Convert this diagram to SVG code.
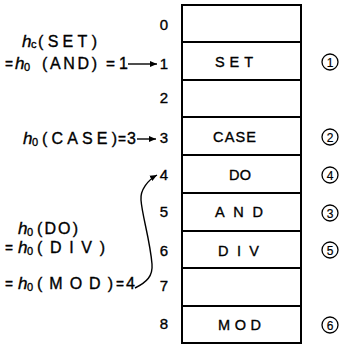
<svg xmlns="http://www.w3.org/2000/svg" width="342" height="347" viewBox="0 0 342 347">
<style>
text{font-family:"Liberation Sans",Arial,sans-serif;fill:#000;stroke:#000;stroke-width:0.35}
.num{font-size:15px;text-anchor:middle}
.cell{font-size:14.5px;text-anchor:middle}
.lbl{font-size:16px}
.h{font-size:17px;font-style:italic}
.sub{font-size:11px}
.cn{font-size:12px;text-anchor:middle;stroke-width:0.2}
.row{stroke:#000;stroke-width:1.8;fill:none}
.circ{stroke:#000;stroke-width:1.3;fill:none}
.conn{stroke:#000;stroke-width:1.4;fill:none}
</style>
<defs>
<marker id="ah" markerUnits="userSpaceOnUse" markerWidth="8" markerHeight="8" refX="7" refY="4" orient="auto">
<path d="M0,1 L7,4 L0,7 Z" fill="#000"/>
</marker>
</defs>

<g id="table">
<rect x="182" y="5" width="119" height="338" fill="none" stroke="#000" stroke-width="2"/>
<line class="row" x1="182" y1="42" x2="301" y2="42"/>
<line class="row" x1="182" y1="80" x2="301" y2="80"/>
<line class="row" x1="182" y1="117" x2="301" y2="117"/>
<line class="row" x1="182" y1="155" x2="301" y2="155"/>
<line class="row" x1="182" y1="193" x2="301" y2="193"/>
<line class="row" x1="182" y1="231" x2="301" y2="231"/>
<line class="row" x1="182" y1="268" x2="301" y2="268"/>
<line class="row" x1="182" y1="306" x2="301" y2="306"/>
</g>

<g id="row-numbers">
<text class="num" x="164" y="30">0</text>
<text class="num" x="164" y="69">1</text>
<text class="num" x="164" y="103">2</text>
<text class="num" x="164" y="143">3</text>
<text class="num" x="164" y="180">4</text>
<text class="num" x="164" y="217">5</text>
<text class="num" x="164" y="256">6</text>
<text class="num" x="164" y="291">7</text>
<text class="num" x="164" y="329">8</text>
</g>

<g id="cell-set"><text class="cell" x="234" y="67" textLength="38" lengthAdjust="spacing">SET</text></g>
<g id="cell-case"><text class="cell" x="234.5" y="142" textLength="43" lengthAdjust="spacing">CASE</text></g>
<g id="cell-do"><text class="cell" x="240" y="180" textLength="22" lengthAdjust="spacing">DO</text></g>
<g id="cell-and"><text class="cell" x="239" y="217" textLength="48" lengthAdjust="spacing">AND</text></g>
<g id="cell-div"><text class="cell" x="238.5" y="256" textLength="41" lengthAdjust="spacing">DIV</text></g>
<g id="cell-mod"><text class="cell" x="239.5" y="330" textLength="43" lengthAdjust="spacing">MOD</text></g>

<g id="order-marks">
<circle class="circ" cx="330" cy="62" r="8"/><text class="cn" x="330" y="66.5">1</text>
<circle class="circ" cx="330" cy="137" r="8"/><text class="cn" x="330" y="141.5">2</text>
<circle class="circ" cx="330" cy="175" r="8"/><text class="cn" x="330" y="179.5">4</text>
<circle class="circ" cx="330" cy="213" r="8"/><text class="cn" x="330" y="217.5">3</text>
<circle class="circ" cx="330" cy="250" r="8"/><text class="cn" x="330" y="254.5">5</text>
<circle class="circ" cx="330" cy="325" r="8"/><text class="cn" x="330" y="329.5">6</text>
</g>

<g id="label-set">
<text class="h" x="22" y="47">h</text>
<text class="sub" x="31" y="48">c</text>
<text class="lbl" x="38" y="47" textLength="59" lengthAdjust="spacing">(SET)</text>
<text class="lbl" x="5" y="69" textLength="8" lengthAdjust="spacingAndGlyphs">=</text>
<text class="h" x="15" y="69">h</text>
<text class="sub" x="24" y="71">0</text>
<text class="lbl" x="42" y="69" textLength="55" lengthAdjust="spacing">(AND)</text>
<text class="lbl" x="106" y="69" textLength="9" lengthAdjust="spacingAndGlyphs">=</text>
<text class="lbl" x="119" y="69">1</text>
</g>

<g id="label-case">
<text class="h" x="23" y="144">h</text>
<text class="sub" x="32" y="146">0</text>
<text class="lbl" x="42" y="144" textLength="75" lengthAdjust="spacing">(CASE)</text>
<text class="lbl" x="118" y="144" textLength="8" lengthAdjust="spacingAndGlyphs">=</text>
<text class="lbl" x="127" y="144">3</text>
</g>

<g id="label-do">
<text class="h" x="18" y="234">h</text>
<text class="sub" x="27" y="236">0</text>
<text class="lbl" x="37" y="234" textLength="41" lengthAdjust="spacing">(DO)</text>
<text class="lbl" x="5" y="253" textLength="8" lengthAdjust="spacingAndGlyphs">=</text>
<text class="h" x="18" y="253">h</text>
<text class="sub" x="27" y="255">0</text>
<text class="lbl" x="37" y="253" textLength="68" lengthAdjust="spacing">(DIV)</text>
<text class="lbl" x="5" y="289" textLength="8" lengthAdjust="spacingAndGlyphs">=</text>
<text class="h" x="18" y="289">h</text>
<text class="sub" x="27" y="291">0</text>
<text class="lbl" x="37" y="289" textLength="76" lengthAdjust="spacing">(MOD)</text>
<text class="lbl" x="116" y="289" textLength="8" lengthAdjust="spacingAndGlyphs">=</text>
<text class="lbl" x="126" y="289">4</text>
</g>

<g id="connectors">
<line class="conn" x1="128" y1="64" x2="157" y2="64" marker-end="url(#ah)"/>
<line class="conn" x1="137" y1="139" x2="156" y2="139" marker-end="url(#ah)"/>
<path class="conn" d="M135,288 C147,282 153,276 152,264 C150,240 142,215 141,200 C140,190 148,180 157,175" marker-end="url(#ah)"/>
</g>
</svg>
